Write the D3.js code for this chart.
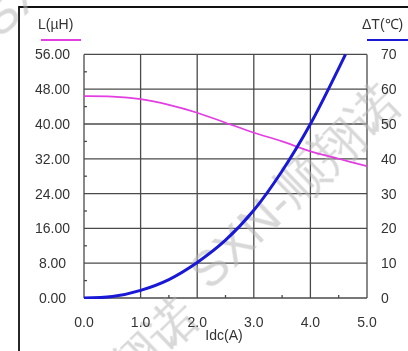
<!DOCTYPE html>
<html>
<head>
<meta charset="utf-8">
<script src="https://cdn.jsdelivr.net/npm/d3@7"></script>
<style>
  html, body { margin: 0; padding: 0; background: #fff; }
  svg { display: block; }
  text { font-family: 'Liberation Sans', Arial, sans-serif; }
</style>
</head>
<body>
<div id="chart"></div>
<script>
// Idc (A) -> inductance L (µH)
const currentA = [0, 0.5, 1, 1.5, 2, 2.5, 3, 3.5, 4, 4.5, 5];
const inductance = [46.4, 46.3, 45.7, 44.4, 42.6, 40.3, 38.0, 36.0, 33.7, 32.0, 30.3];

// Idc (A) -> temperature rise ΔT (°C)
const tempCurrent = [0, 0.5, 1, 1.5, 2, 2.5, 3, 3.5, 4, 4.5, 4.62];
const tempRise = [0, 0.4, 2.2, 5.3, 10.2, 16.6, 25.2, 36.5, 50.0, 66.0, 70.0];

const xTicks = [0, 1, 2, 3, 4, 5];
const leftTicks = [0, 8, 16, 24, 32, 40, 48, 56];
const rightTicks = [0, 10, 20, 30, 40, 50, 60, 70];
const watermark = 'SXN-顺翔诺';

const makePlot = () => {
  const container = d3.select('#chart');
  container.selectAll('*').remove();

  const size = { width: 408, height: 351 };
  const margin = {
    top: 54.4, right: 41, bottom: 53, left: 84,
  };

  const svg = container.append('svg')
    .attr('width', size.width)
    .attr('height', size.height);

  const x = d3.scaleLinear().domain([0, 5])
    .range([margin.left, size.width - margin.right]);
  const yL = d3.scaleLinear().domain([0, 56])
    .range([size.height - margin.bottom, margin.top]);
  const yT = d3.scaleLinear().domain([0, 70])
    .range([size.height - margin.bottom, margin.top]);

  const [x0, x1] = x.range();
  const [yb, yt] = yL.range();

  // outer frame (only left + top visible in the crop)
  svg.append('path')
    .attr('d', `M19,${size.height} V7 H${size.width}`)
    .attr('fill', 'none')
    .attr('stroke', '#111')
    .attr('stroke-width', 1.8);

  /**
   * grid
   */
  const grid = svg.append('g')
    .attr('stroke', '#4a4a4a')
    .attr('stroke-width', 1.3);

  grid.selectAll('.hg')
    .data(leftTicks)
    .enter()
    .append('line')
    .attr('x1', x0)
    .attr('x2', x1)
    .attr('y1', (d) => yL(d))
    .attr('y2', (d) => yL(d));

  grid.selectAll('.vg')
    .data(xTicks)
    .enter()
    .append('line')
    .attr('x1', (d) => x(d))
    .attr('x2', (d) => x(d))
    .attr('y1', yb)
    .attr('y2', yt);

  // minor ticks inside the plot
  const minorL = d3.range(4, 56, 8);
  grid.selectAll('.ml')
    .data(minorL)
    .enter()
    .append('line')
    .attr('x1', x0)
    .attr('x2', x0 + 3)
    .attr('y1', (d) => yL(d))
    .attr('y2', (d) => yL(d));

  const minorX = d3.range(0.5, 5, 1);
  grid.selectAll('.mx')
    .data(minorX)
    .enter()
    .append('line')
    .attr('x1', (d) => x(d))
    .attr('x2', (d) => x(d))
    .attr('y1', yb)
    .attr('y2', yb - 3);

  /**
   * watermark
   */
  const wm = svg.append('g')
    .style('font-family', "'Noto Sans CJK SC', sans-serif")
    .style('font-weight', 300)
    .style('font-size', '50px')
    .attr('fill', '#b8b8b8')
    .attr('opacity', 0.55);

  [[210, 292], [0, 40], [8, 506]].forEach(([wx, wy]) => {
    wm.append('text')
      .text(watermark)
      .attr('transform', `translate(${wx},${wy}) rotate(-44)`);
  });

  /**
   * curves
   */
  const lData = currentA.map((c, i) => [c, inductance[i]]);
  const tData = tempCurrent.map((c, i) => [c, tempRise[i]]);

  svg.append('clipPath').attr('id', 'plotClip')
    .append('rect')
    .attr('x', x0)
    .attr('y', yt - 1)
    .attr('width', x1 - x0)
    .attr('height', yb - yt + 2);

  const curves = svg.append('g').attr('clip-path', 'url(#plotClip)');

  curves.append('path')
    .datum(lData)
    .attr('fill', 'none')
    .attr('stroke', '#e23ee2')
    .attr('stroke-width', 1.7)
    .attr('d', d3.line().x((d) => x(d[0])).y((d) => yL(d[1])).curve(d3.curveCatmullRom.alpha(0.5)));

  curves.append('path')
    .datum(tData)
    .attr('fill', 'none')
    .attr('stroke', '#1818d6')
    .attr('stroke-width', 3)
    .attr('d', d3.line().x((d) => x(d[0])).y((d) => yT(d[1])).curve(d3.curveCatmullRom.alpha(0.5)));

  /**
   * labels
   */
  const labels = svg.append('g')
    .attr('fill', '#333')
    .style('font-size', '14px');

  labels.selectAll('.lt')
    .data(leftTicks)
    .enter()
    .append('text')
    .text((d) => d.toFixed(2))
    .attr('x', 52.5)
    .attr('y', (d) => yL(d) + 5)
    .attr('text-anchor', 'middle');

  labels.selectAll('.rt')
    .data(rightTicks)
    .enter()
    .append('text')
    .text((d) => d)
    .attr('x', 381)
    .attr('y', (d) => yT(d) + 5);

  labels.selectAll('.xt')
    .data(xTicks)
    .enter()
    .append('text')
    .text((d) => d.toFixed(1))
    .attr('x', (d) => x(d))
    .attr('y', 326.5)
    .attr('text-anchor', 'middle');

  labels.append('text')
    .text('Idc(A)')
    .attr('x', 224)
    .attr('y', 340)
    .attr('text-anchor', 'middle');

  // series titles with coloured underlines
  labels.append('text')
    .text('L(µH)')
    .attr('x', 38)
    .attr('y', 29);
  svg.append('line')
    .attr('x1', 41).attr('x2', 81)
    .attr('y1', 40).attr('y2', 40)
    .attr('stroke', '#e23ee2')
    .attr('stroke-width', 2);

  labels.append('text')
    .text('ΔT(℃)')
    .attr('x', 362)
    .attr('y', 29);
  svg.append('line')
    .attr('x1', 367).attr('x2', 408)
    .attr('y1', 40).attr('y2', 40)
    .attr('stroke', '#1818d6')
    .attr('stroke-width', 2);
};

makePlot();
</script>
</body>
</html>
